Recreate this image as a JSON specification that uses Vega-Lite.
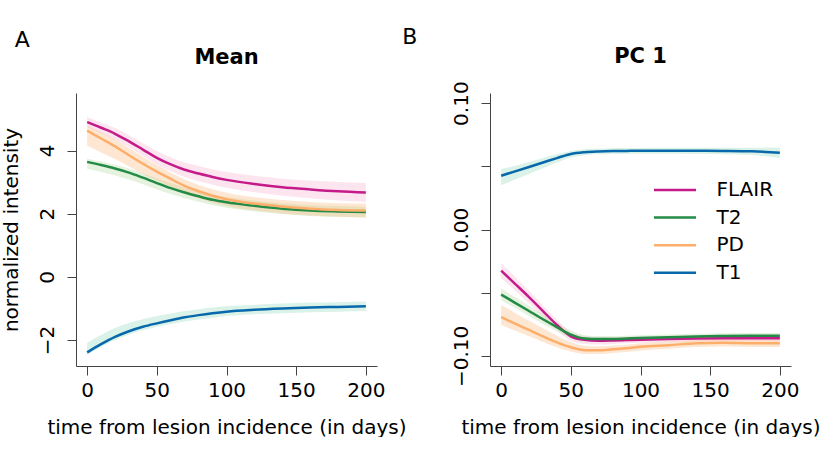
{
  "$schema": "https://vega.github.io/schema/vega-lite/v6.json",
  "padding": {"left": 0, "top": 25, "right": 0, "bottom": 0},
  "background": "white",
  "bounds": "flush",
  "spacing": 113,
  "resolve": {"scale": {"color": "independent", "fill": "independent", "x": "independent", "y": "independent"}},
  "datasets": {
    "mean": [
      {"m":"FLAIR","t":0,"v":4.9,"lo":4.74,"hi":5.06},
      {"m":"FLAIR","t":10,"v":4.72,"lo":4.55,"hi":4.89},
      {"m":"FLAIR","t":20,"v":4.53,"lo":4.35,"hi":4.71},
      {"m":"FLAIR","t":30,"v":4.29,"lo":4.10,"hi":4.48},
      {"m":"FLAIR","t":40,"v":4.03,"lo":3.83,"hi":4.23},
      {"m":"FLAIR","t":50,"v":3.77,"lo":3.56,"hi":3.98},
      {"m":"FLAIR","t":60,"v":3.56,"lo":3.34,"hi":3.78},
      {"m":"FLAIR","t":70,"v":3.39,"lo":3.16,"hi":3.62},
      {"m":"FLAIR","t":80,"v":3.27,"lo":3.03,"hi":3.51},
      {"m":"FLAIR","t":90,"v":3.16,"lo":2.92,"hi":3.40},
      {"m":"FLAIR","t":100,"v":3.07,"lo":2.82,"hi":3.32},
      {"m":"FLAIR","t":120,"v":2.94,"lo":2.68,"hi":3.20},
      {"m":"FLAIR","t":140,"v":2.84,"lo":2.57,"hi":3.11},
      {"m":"FLAIR","t":160,"v":2.77,"lo":2.49,"hi":3.05},
      {"m":"FLAIR","t":180,"v":2.71,"lo":2.42,"hi":3.00},
      {"m":"FLAIR","t":200,"v":2.67,"lo":2.37,"hi":2.97},
      {"m":"T2","t":0,"v":3.64,"lo":3.42,"hi":3.74},
      {"m":"T2","t":10,"v":3.54,"lo":3.32,"hi":3.65},
      {"m":"T2","t":20,"v":3.43,"lo":3.21,"hi":3.55},
      {"m":"T2","t":30,"v":3.30,"lo":3.08,"hi":3.43},
      {"m":"T2","t":40,"v":3.14,"lo":2.93,"hi":3.28},
      {"m":"T2","t":50,"v":2.97,"lo":2.77,"hi":3.12},
      {"m":"T2","t":60,"v":2.81,"lo":2.62,"hi":2.97},
      {"m":"T2","t":70,"v":2.67,"lo":2.49,"hi":2.83},
      {"m":"T2","t":80,"v":2.55,"lo":2.38,"hi":2.71},
      {"m":"T2","t":90,"v":2.44,"lo":2.27,"hi":2.61},
      {"m":"T2","t":100,"v":2.36,"lo":2.19,"hi":2.53},
      {"m":"T2","t":120,"v":2.25,"lo":2.08,"hi":2.42},
      {"m":"T2","t":140,"v":2.16,"lo":1.99,"hi":2.33},
      {"m":"T2","t":160,"v":2.10,"lo":1.93,"hi":2.27},
      {"m":"T2","t":180,"v":2.07,"lo":1.90,"hi":2.24},
      {"m":"T2","t":200,"v":2.05,"lo":1.88,"hi":2.22},
      {"m":"PD","t":0,"v":4.63,"lo":4.15,"hi":4.79},
      {"m":"PD","t":10,"v":4.38,"lo":3.94,"hi":4.58},
      {"m":"PD","t":20,"v":4.13,"lo":3.73,"hi":4.36},
      {"m":"PD","t":30,"v":3.85,"lo":3.49,"hi":4.08},
      {"m":"PD","t":40,"v":3.58,"lo":3.26,"hi":3.80},
      {"m":"PD","t":50,"v":3.33,"lo":3.05,"hi":3.54},
      {"m":"PD","t":60,"v":3.10,"lo":2.85,"hi":3.30},
      {"m":"PD","t":70,"v":2.88,"lo":2.65,"hi":3.08},
      {"m":"PD","t":80,"v":2.71,"lo":2.49,"hi":2.91},
      {"m":"PD","t":90,"v":2.57,"lo":2.35,"hi":2.77},
      {"m":"PD","t":100,"v":2.46,"lo":2.24,"hi":2.66},
      {"m":"PD","t":120,"v":2.32,"lo":2.10,"hi":2.52},
      {"m":"PD","t":140,"v":2.23,"lo":2.01,"hi":2.43},
      {"m":"PD","t":160,"v":2.16,"lo":1.94,"hi":2.37},
      {"m":"PD","t":180,"v":2.12,"lo":1.90,"hi":2.33},
      {"m":"PD","t":200,"v":2.10,"lo":1.88,"hi":2.32},
      {"m":"T1","t":0,"v":-2.39,"lo":-2.47,"hi":-2.09},
      {"m":"T1","t":10,"v":-2.13,"lo":-2.22,"hi":-1.84},
      {"m":"T1","t":20,"v":-1.90,"lo":-2.00,"hi":-1.62},
      {"m":"T1","t":30,"v":-1.72,"lo":-1.83,"hi":-1.46},
      {"m":"T1","t":40,"v":-1.58,"lo":-1.69,"hi":-1.34},
      {"m":"T1","t":50,"v":-1.47,"lo":-1.58,"hi":-1.24},
      {"m":"T1","t":60,"v":-1.37,"lo":-1.49,"hi":-1.16},
      {"m":"T1","t":70,"v":-1.28,"lo":-1.41,"hi":-1.08},
      {"m":"T1","t":80,"v":-1.21,"lo":-1.35,"hi":-1.02},
      {"m":"T1","t":90,"v":-1.15,"lo":-1.29,"hi":-0.97},
      {"m":"T1","t":100,"v":-1.10,"lo":-1.24,"hi":-0.93},
      {"m":"T1","t":120,"v":-1.04,"lo":-1.18,"hi":-0.88},
      {"m":"T1","t":140,"v":-1.00,"lo":-1.15,"hi":-0.84},
      {"m":"T1","t":160,"v":-0.97,"lo":-1.12,"hi":-0.81},
      {"m":"T1","t":180,"v":-0.95,"lo":-1.10,"hi":-0.80},
      {"m":"T1","t":200,"v":-0.93,"lo":-1.08,"hi":-0.78}
    ],
    "pc1": [
      {"m":"FLAIR","t":0,"v":-0.0325,"lo":-0.0385,"hi":-0.0265},
      {"m":"FLAIR","t":10,"v":-0.0430,"lo":-0.0485,"hi":-0.0375},
      {"m":"FLAIR","t":20,"v":-0.0535,"lo":-0.0585,"hi":-0.0485},
      {"m":"FLAIR","t":30,"v":-0.0645,"lo":-0.0690,"hi":-0.0600},
      {"m":"FLAIR","t":40,"v":-0.0755,"lo":-0.0795,"hi":-0.0715},
      {"m":"FLAIR","t":50,"v":-0.0845,"lo":-0.0880,"hi":-0.0810},
      {"m":"FLAIR","t":60,"v":-0.0873,"lo":-0.0905,"hi":-0.0843},
      {"m":"FLAIR","t":70,"v":-0.0880,"lo":-0.0910,"hi":-0.0852},
      {"m":"FLAIR","t":80,"v":-0.0878,"lo":-0.0905,"hi":-0.0851},
      {"m":"FLAIR","t":90,"v":-0.0875,"lo":-0.0900,"hi":-0.0850},
      {"m":"FLAIR","t":100,"v":-0.0872,"lo":-0.0897,"hi":-0.0847},
      {"m":"FLAIR","t":120,"v":-0.0866,"lo":-0.0890,"hi":-0.0842},
      {"m":"FLAIR","t":140,"v":-0.0862,"lo":-0.0886,"hi":-0.0838},
      {"m":"FLAIR","t":160,"v":-0.0860,"lo":-0.0884,"hi":-0.0836},
      {"m":"FLAIR","t":180,"v":-0.0860,"lo":-0.0884,"hi":-0.0836},
      {"m":"FLAIR","t":200,"v":-0.0860,"lo":-0.0885,"hi":-0.0835},
      {"m":"T2","t":0,"v":-0.0515,"lo":-0.0560,"hi":-0.0465},
      {"m":"T2","t":10,"v":-0.0580,"lo":-0.0622,"hi":-0.0535},
      {"m":"T2","t":20,"v":-0.0645,"lo":-0.0685,"hi":-0.0603},
      {"m":"T2","t":30,"v":-0.0710,"lo":-0.0748,"hi":-0.0670},
      {"m":"T2","t":40,"v":-0.0772,"lo":-0.0806,"hi":-0.0736},
      {"m":"T2","t":50,"v":-0.0832,"lo":-0.0862,"hi":-0.0800},
      {"m":"T2","t":60,"v":-0.0863,"lo":-0.0888,"hi":-0.0836},
      {"m":"T2","t":70,"v":-0.0867,"lo":-0.0890,"hi":-0.0843},
      {"m":"T2","t":80,"v":-0.0866,"lo":-0.0888,"hi":-0.0843},
      {"m":"T2","t":90,"v":-0.0862,"lo":-0.0884,"hi":-0.0840},
      {"m":"T2","t":100,"v":-0.0858,"lo":-0.0880,"hi":-0.0836},
      {"m":"T2","t":120,"v":-0.0852,"lo":-0.0874,"hi":-0.0830},
      {"m":"T2","t":140,"v":-0.0846,"lo":-0.0868,"hi":-0.0824},
      {"m":"T2","t":160,"v":-0.0843,"lo":-0.0865,"hi":-0.0821},
      {"m":"T2","t":180,"v":-0.0841,"lo":-0.0863,"hi":-0.0819},
      {"m":"T2","t":200,"v":-0.0840,"lo":-0.0862,"hi":-0.0818},
      {"m":"PD","t":0,"v":-0.0693,"lo":-0.0755,"hi":-0.0595},
      {"m":"PD","t":10,"v":-0.0745,"lo":-0.0800,"hi":-0.0660},
      {"m":"PD","t":20,"v":-0.0795,"lo":-0.0845,"hi":-0.0722},
      {"m":"PD","t":30,"v":-0.0845,"lo":-0.0890,"hi":-0.0782},
      {"m":"PD","t":40,"v":-0.0893,"lo":-0.0932,"hi":-0.0840},
      {"m":"PD","t":50,"v":-0.0932,"lo":-0.0965,"hi":-0.0890},
      {"m":"PD","t":60,"v":-0.0955,"lo":-0.0985,"hi":-0.0920},
      {"m":"PD","t":70,"v":-0.0956,"lo":-0.0985,"hi":-0.0924},
      {"m":"PD","t":80,"v":-0.0948,"lo":-0.0977,"hi":-0.0918},
      {"m":"PD","t":90,"v":-0.0940,"lo":-0.0969,"hi":-0.0911},
      {"m":"PD","t":100,"v":-0.0928,"lo":-0.0957,"hi":-0.0900},
      {"m":"PD","t":120,"v":-0.0915,"lo":-0.0944,"hi":-0.0887},
      {"m":"PD","t":140,"v":-0.0900,"lo":-0.0929,"hi":-0.0872},
      {"m":"PD","t":160,"v":-0.0896,"lo":-0.0925,"hi":-0.0867},
      {"m":"PD","t":180,"v":-0.0900,"lo":-0.0929,"hi":-0.0871},
      {"m":"PD","t":200,"v":-0.0900,"lo":-0.0930,"hi":-0.0870},
      {"m":"T1","t":0,"v":0.0425,"lo":0.0350,"hi":0.0478},
      {"m":"T1","t":10,"v":0.0460,"lo":0.0395,"hi":0.0505},
      {"m":"T1","t":20,"v":0.0495,"lo":0.0440,"hi":0.0535},
      {"m":"T1","t":30,"v":0.0530,"lo":0.0485,"hi":0.0565},
      {"m":"T1","t":40,"v":0.0565,"lo":0.0530,"hi":0.0595},
      {"m":"T1","t":50,"v":0.0598,"lo":0.0570,"hi":0.0622},
      {"m":"T1","t":60,"v":0.0612,"lo":0.0588,"hi":0.0635},
      {"m":"T1","t":70,"v":0.0618,"lo":0.0595,"hi":0.0640},
      {"m":"T1","t":80,"v":0.0621,"lo":0.0598,"hi":0.0643},
      {"m":"T1","t":90,"v":0.0622,"lo":0.0599,"hi":0.0644},
      {"m":"T1","t":100,"v":0.0623,"lo":0.0600,"hi":0.0645},
      {"m":"T1","t":120,"v":0.0624,"lo":0.0600,"hi":0.0647},
      {"m":"T1","t":140,"v":0.0623,"lo":0.0598,"hi":0.0647},
      {"m":"T1","t":160,"v":0.0622,"lo":0.0596,"hi":0.0647},
      {"m":"T1","t":180,"v":0.0619,"lo":0.0590,"hi":0.0647},
      {"m":"T1","t":200,"v":0.0607,"lo":0.0565,"hi":0.0648}
    ],
    "tagA": [{"lab":"A","t":-46.5,"v":7.51}],
    "tagB": [{"lab":"B","t":-65.6,"v":0.1524}]
  },
  "hconcat": [
    {
      "width": 301,
      "height": 273,
      "title": {"text": "Mean", "offset": -39},
      "layer": [
        {
          "data": {"name": "mean"},
          "mark": {"type": "area", "fillOpacity": 0.38, "interpolate": "monotone"},
          "encoding": {
            "x": {"field": "t", "type": "quantitative", "scale": {"domain": [-8, 208], "nice": false, "zero": false}, "axis": {"values": [0, 50, 100, 150, 200], "title": "time from lesion incidence (in days)"}},
            "y": {"field": "lo", "type": "quantitative", "scale": {"domain": [-2.82, 5.82], "nice": false, "zero": false}, "axis": {"values": [-2, 0, 2, 4], "title": "normalized intensity"}},
            "y2": {"field": "hi"},
            "fill": {"field": "m", "type": "nominal", "scale": {"domain": ["T1", "PD", "T2", "FLAIR"], "range": ["#9ddec0", "#fac089", "#b9dea7", "#fabbd7"]}, "legend": null}
          }
        },
        {
          "data": {"name": "mean"},
          "mark": {"type": "line", "strokeWidth": 2.5, "interpolate": "monotone"},
          "encoding": {
            "x": {"field": "t", "type": "quantitative"},
            "y": {"field": "v", "type": "quantitative"},
            "color": {"field": "m", "type": "nominal", "scale": {"domain": ["FLAIR", "T2", "PD", "T1"], "range": ["#c51b8a", "#238b45", "#fdae6b", "#0868ac"]}, "legend": null}
          }
        },
        {
          "data": {"name": "tagA"},
          "mark": {"type": "text", "fontSize": 22, "font": "DejaVu Sans", "align": "center", "baseline": "middle", "color": "#000"},
          "encoding": {
            "x": {"field": "t", "type": "quantitative"},
            "y": {"field": "v", "type": "quantitative"},
            "text": {"field": "lab"}
          }
        }
      ]
    },
    {
      "width": 301,
      "height": 273,
      "title": {"text": "PC 1", "offset": -41},
      "layer": [
        {
          "data": {"name": "pc1"},
          "mark": {"type": "area", "fillOpacity": 0.38, "interpolate": "monotone"},
          "encoding": {
            "x": {"field": "t", "type": "quantitative", "scale": {"domain": [-8, 208], "nice": false, "zero": false}, "axis": {"values": [0, 50, 100, 150, 200], "title": "time from lesion incidence (in days)"}},
            "y": {"field": "lo", "type": "quantitative", "scale": {"domain": [-0.108, 0.108], "nice": false, "zero": false}, "axis": {"values": [-0.1, -0.05, 0, 0.05, 0.1], "title": null, "labelExpr": "abs(datum.value) > 0.07 || datum.value == 0 ? format(datum.value, '.2f') : ''"}},
            "y2": {"field": "hi"},
            "fill": {"field": "m", "type": "nominal", "scale": {"domain": ["T1", "PD", "T2", "FLAIR"], "range": ["#9ddec0", "#fac089", "#b9dea7", "#fabbd7"]}, "legend": null}
          }
        },
        {
          "data": {"name": "pc1"},
          "mark": {"type": "line", "strokeWidth": 2.5, "interpolate": "monotone"},
          "encoding": {
            "x": {"field": "t", "type": "quantitative"},
            "y": {"field": "v", "type": "quantitative"},
            "color": {"field": "m", "type": "nominal", "scale": {"domain": ["FLAIR", "T2", "PD", "T1"], "range": ["#c51b8a", "#238b45", "#fdae6b", "#0868ac"]},
              "legend": {"title": null, "orient": "none", "legendX": 173, "legendY": 85, "symbolType": "M-2,0H2", "symbolSize": 441, "symbolStrokeWidth": 2.5, "labelFontSize": 20, "labelFont": "DejaVu Sans", "labelColor": "#000", "labelOffset": 29.5, "rowPadding": 5.6, "padding": 0}}
          }
        },
        {
          "data": {"name": "tagB"},
          "mark": {"type": "text", "fontSize": 22, "font": "DejaVu Sans", "align": "center", "baseline": "middle", "color": "#000"},
          "encoding": {
            "x": {"field": "t", "type": "quantitative"},
            "y": {"field": "v", "type": "quantitative"},
            "text": {"field": "lab"}
          }
        }
      ]
    }
  ],
  "config": {
    "font": "DejaVu Sans",
    "view": {"stroke": null},
    "axis": {"domainColor": "#444", "tickColor": "#444", "labelColor": "#000", "titleColor": "#000", "labelFontSize": 20, "titleFontSize": 20, "titleFontWeight": "normal", "tickSize": 9, "grid": false, "labelFont": "DejaVu Sans", "titleFont": "DejaVu Sans", "labelFlush": false, "labelOverlap": false, "labelPadding": 5, "titlePadding": 17},
    "axisY": {"labelAngle": 270, "labelAlign": "center", "labelBaseline": "alphabetic", "labelPadding": 14, "titlePadding": 16},
    "title": {"fontSize": 21, "font": "DejaVu Sans", "fontWeight": "bold", "frame": "group", "anchor": "middle", "color": "#000"}
  }
}
